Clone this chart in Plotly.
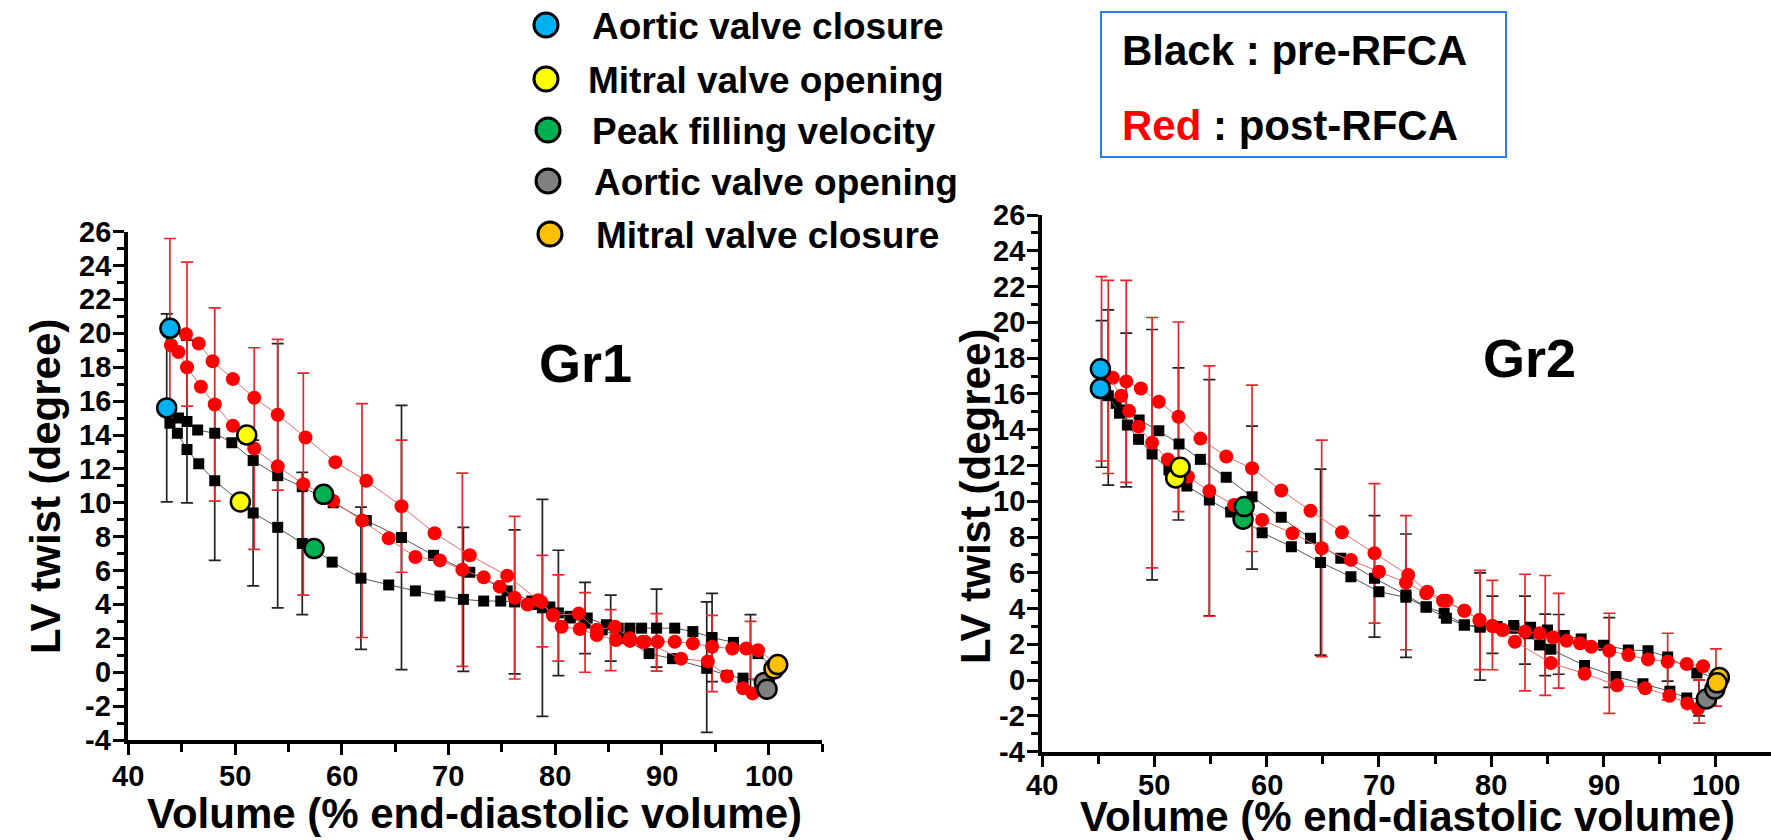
import plotly.graph_objects as go

W, H = 1771, 840
FONT = "Liberation Sans, Arial, sans-serif"

# ---------------- Gr1 : LV twist vs volume loops ----------------
gr1_pre_sys_x = [43.6, 44.7, 45.5, 46.5, 48.1, 49.7, 51.7, 54.0, 56.3, 59.2, 62.3, 65.6, 68.6, 72.0, 75.5, 77.8, 78.8,
                 80.3, 81.4, 82.8, 84.4, 86.4, 88.8, 91.0, 94.2, 96.1, 97.6, 99.6]
gr1_pre_sys_y = [15.6, 15.0, 14.8, 14.3, 14.1, 13.55, 12.5, 11.6, 10.95, 10.0, 8.95, 7.95, 6.9, 5.9, 4.8, 4.2, 3.8,
                 3.5, 3.2, 2.9, 2.5, 2.0, 1.1, 0.8, 0.23, -0.2, -0.35, -0.6]
gr1_pre_dia_x = [43.6, 43.9, 44.6, 45.5, 46.6, 48.1, 50.5, 51.7, 54.0, 56.3, 57.4, 59.1, 61.8, 64.4, 66.9, 69.2, 71.4,
                 73.3, 74.9, 76.2, 77.8, 79.5, 81.4, 83.0, 84.8, 85.9, 87.0, 88.1, 89.5, 91.2, 92.9, 94.7, 96.7, 99.0,
                 100.5]
gr1_pre_dia_y = [15.6, 14.7, 14.1, 13.15, 12.3, 11.3, 10.05, 9.4, 8.55, 7.6, 7.3, 6.5, 5.55, 5.15, 4.8, 4.5, 4.3,
                 4.2, 4.2, 4.15, 4.0, 3.85, 3.3, 3.2, 2.8, 2.6, 2.6, 2.6, 2.6, 2.6, 2.4, 2.05, 1.76, 1.1, 0.2]
gr1_post_sys_x = [43.9, 45.4, 46.6, 47.9, 49.8, 51.8, 54.0, 56.6, 59.4, 62.3, 65.6, 68.7, 72.0, 75.5, 78.4, 79.8,
                  80.6, 82.3, 83.9, 85.7, 87.0, 88.4, 91.8, 94.3, 96.1, 97.6, 98.5, 99.85]
gr1_post_sys_y = [20.3, 19.95, 19.4, 18.35, 17.3, 16.2, 15.2, 13.85, 12.4, 11.3, 9.8, 8.2, 6.9, 5.7, 4.25, 3.36,
                  2.68, 2.55, 2.2, 1.9, 1.85, 1.8, 0.8, 0.64, -0.24, -0.95, -1.25, -1.0]
gr1_post_dia_x = [43.9, 44.0, 44.7, 45.5, 46.8, 48.1, 49.8, 51.1, 51.8, 54.0, 56.4, 58.3, 59.2, 61.9, 64.4, 66.9,
                  69.2, 71.3, 73.3, 74.8, 76.2, 77.4, 78.7, 79.8, 82.2, 83.9, 85.6, 87.0, 88.2, 89.6, 91.2, 92.9,
                  94.7, 96.6, 97.9, 99.0, 100.85]
gr1_post_dia_y = [20.3, 19.3, 18.9, 18.0, 16.85, 15.8, 14.55, 14.0, 13.2, 12.15, 11.1, 10.5, 10.1, 8.95, 7.9, 6.8,
                  6.6, 6.05, 5.6, 5.05, 4.4, 4.0, 4.15, 3.36, 3.46, 2.5, 2.68, 2.0, 1.8, 1.8, 1.8, 1.7,
                  1.5, 1.4, 1.4, 1.3, 0.45]

gr1_pre_err_x = [43.6, 45.5, 48.1, 51.7, 54.0, 56.3, 61.8, 65.6, 71.4, 76.2, 78.8, 80.3, 82.8, 85.2, 89.5, 94.2,
                 94.7, 98.3]
gr1_pre_err_y = [15.6, 14.8, 11.3, 9.4, 11.6, 7.6, 5.55, 7.95, 4.3, 4.15, 3.8, 3.5, 3.2, 2.6, 2.6, 0.3, 2.05, 1.1]
gr1_pre_sd = [5.55, 4.8, 4.7, 4.3, 7.8, 4.2, 4.2, 7.8, 4.25, 4.25, 6.4, 3.7, 2.1, 1.95, 2.3, 3.85, 2.6, 2.3]
gr1_post_err_x = [43.9, 45.5, 48.1, 51.8, 54.0, 56.4, 61.9, 65.6, 71.3, 76.2, 78.8, 80.3, 82.8, 85.2, 89.5, 94.7,
                  98.3]
gr1_post_err_y = [20.3, 19.95, 15.8, 13.2, 15.2, 11.1, 8.95, 9.8, 6.05, 4.4, 4.2, 3.2, 2.35, 1.9, 1.76, 1.1, 1.3]
gr1_post_sd = [5.3, 4.25, 5.7, 5.95, 4.45, 6.55, 6.9, 3.9, 5.7, 4.8, 2.7, 2.55, 2.35, 1.8, 1.7, 2.25, 1.7]

# ---------------- Gr2 ----------------
gr2_pre_sys_x = [45.2, 46.6, 47.5, 48.65, 50.4, 52.2, 54.1, 56.4, 58.7, 61.3, 63.9, 66.6, 69.6, 72.4, 74.2, 75.8,
                 77.6, 79.0, 80.5, 82.0, 83.3, 84.3, 85.3, 88.3, 91.1, 93.5, 95.9, 97.4, 99.15]
gr2_pre_sys_y = [16.3, 15.47, 15.1, 14.54, 13.94, 13.2, 12.34, 11.34, 10.25, 9.1, 7.93, 6.81, 5.69, 4.76, 4.1, 3.74,
                 3.08, 3.0, 2.95, 2.9, 2.6, 1.96, 1.72, 0.82, 0.2, -0.2, -0.62, -1.0, -1.05]
gr2_pre_dia_x = [45.2, 45.9, 46.9, 47.6, 48.6, 49.8, 51.3, 51.9, 52.9, 54.9, 56.8, 57.9, 59.6, 62.2, 64.8, 67.5,
                 70.0, 72.4, 74.2, 76.0, 77.6, 79.0, 80.5, 82.0, 83.5, 85.0, 86.5, 88.0, 90.0, 92.2, 93.95, 95.7,
                 98.3, 100.3]
gr2_pre_dia_y = [16.3, 15.9, 14.92, 14.26, 13.46, 12.64, 11.75, 11.3, 10.85, 10.07, 9.4, 9.0, 8.24, 7.46, 6.58, 5.78,
                 4.94, 4.63, 4.07, 3.46, 3.08, 2.95, 3.0, 3.05, 2.95, 2.8, 2.5, 2.3, 1.95, 1.69, 1.64, 1.3,
                 0.4, 0.15]
gr2_post_sys_x = [45.2, 46.3, 47.5, 48.8, 50.4, 52.15, 54.1, 56.4, 58.7, 61.3, 63.9, 66.7, 69.6, 72.6, 74.3, 76.0,
                  77.6, 78.95, 80.1, 81.0, 82.1, 85.3, 88.3, 91.2, 93.7, 95.85, 97.45, 98.4, 99.9]
gr2_post_sys_y = [17.4, 16.9, 16.7, 16.3, 15.56, 14.72, 13.5, 12.5, 11.84, 10.6, 9.47, 8.26, 7.09, 5.88, 4.94, 4.44,
                  3.88, 3.36, 3.03, 2.8, 2.15, 0.96, 0.36, -0.29, -0.45, -0.87, -1.3, -1.6, -0.5]
gr2_post_dia_x = [45.2, 45.9, 47.05, 47.75, 48.6, 49.8, 51.2, 52.3, 53.0, 54.9, 57.1, 58.0, 59.6, 62.3, 64.9, 67.5,
                  70.0, 72.4, 74.2, 75.7, 77.6, 78.95, 80.1, 81.0, 83.0, 84.3, 85.5, 86.7, 87.9, 88.9, 90.5, 92.2,
                  93.95, 95.7, 97.4, 98.85, 100.1]
gr2_post_dia_y = [17.4, 16.95, 15.9, 15.05, 14.17, 13.27, 12.34, 11.9, 11.37, 10.57, 9.79, 9.7, 8.95, 8.21, 7.37, 6.72,
                  6.06, 5.45, 4.85, 4.44, 3.88, 3.36, 3.03, 2.8, 2.7, 2.62, 2.4, 2.2, 2.06, 1.87, 1.64, 1.4,
                  1.16, 1.03, 0.9, 0.78, -0.15]

gr2_pre_err_x = [45.3, 45.9, 47.5, 49.8, 52.15, 54.9, 58.7, 64.8, 69.6, 72.4, 79.0, 80.1, 83.0, 84.8, 86.0, 90.5,
                 95.7, 98.5]
gr2_pre_err_y = [16.0, 15.8, 15.1, 12.6, 13.2, 10.2, 10.2, 6.6, 5.8, 4.72, 3.0, 3.1, 2.8, 1.97, 2.0, 1.55, 0.5, -1.0]
gr2_pre_sd = [4.1, 4.9, 4.3, 7.0, 4.25, 6.6, 4.0, 5.2, 3.4, 3.45, 3.0, 1.6, 1.9, 1.72, 1.67, 1.95, 0.55, 1.0]
gr2_post_err_x = [45.3, 45.9, 47.5, 49.8, 52.15, 54.9, 58.7, 64.9, 69.6, 72.4, 79.0, 80.1, 83.0, 84.8, 86.0, 90.5,
                  95.7, 98.5, 100.0]
gr2_post_err_y = [17.4, 16.95, 16.7, 13.27, 14.72, 10.57, 11.84, 7.37, 7.09, 5.45, 3.36, 3.08, 2.66, 2.5, 2.2, 0.94,
                  0.76, -1.2, 0.15]
gr2_post_sd = [5.15, 5.4, 5.65, 7.0, 5.3, 7.0, 4.65, 6.05, 3.9, 3.75, 2.77, 2.5, 3.26, 3.35, 2.65, 2.8, 1.86, 1.2,
               1.6]

# ---------------- Cardiac events (pre, post) ----------------
events = ["Aortic valve closure", "Mitral valve opening", "Peak filling velocity",
          "Aortic valve opening", "Mitral valve closure"]
event_colors = ["#00b0f0", "#ffff00", "#00b050", "#808080", "#ffc000"]

gr1_pre_event_x = [43.6, 50.5, 57.4, 99.6, 100.5]
gr1_pre_event_y = [15.6, 10.05, 7.3, -0.6, 0.2]
gr1_post_event_x = [43.9, 51.1, 58.3, 99.85, 100.85]
gr1_post_event_y = [20.3, 14.0, 10.5, -1.0, 0.45]
gr2_pre_event_x = [45.2, 51.9, 57.9, 99.15, 100.3]
gr2_pre_event_y = [16.3, 11.3, 9.0, -1.05, 0.15]
gr2_post_event_x = [45.2, 52.3, 58.0, 99.9, 100.1]
gr2_post_event_y = [17.4, 11.9, 9.7, -0.5, -0.15]

x_ticks = [40, 50, 60, 70, 80, 90, 100]
x_tick_labels = ["40", "50", "60", "70", "80", "90", "100"]
y_ticks = [-4, -2, 0, 2, 4, 6, 8, 10, 12, 14, 16, 18, 20, 22, 24, 26]
y_tick_labels = ["-4", "-2", "0", "2", "4", "6", "8", "10", "12", "14", "16", "18", "20", "22", "24", "26"]

PRE_MARK = dict(symbol="square", size=11, color="#000000")
POST_MARK = dict(symbol="circle", size=14, color="#ff0000")
PRE_LINE = dict(color="#555555", width=1)
POST_LINE = dict(color="#e86a6a", width=1)

fig = go.Figure()


def add_limb(x, y, xa, ya, marker, line):
    fig.add_trace(go.Scatter(x=x, y=y, mode="lines+markers", marker=marker, line=line,
                             xaxis=xa, yaxis=ya, showlegend=False, hoverinfo="skip"))


def add_err(x, y, sd, xa, ya, color):
    fig.add_trace(go.Scatter(x=x, y=y, mode="markers", marker=dict(size=1, opacity=0),
                             error_y=dict(type="data", array=sd, visible=True, color=color,
                                          thickness=1.7, width=6),
                             xaxis=xa, yaxis=ya, showlegend=False, hoverinfo="skip"))


def add_events(pre_x, pre_y, post_x, post_y, xa, ya):
    for i, name in enumerate(events):
        fig.add_trace(go.Scatter(x=[pre_x[i], post_x[i]], y=[pre_y[i], post_y[i]], mode="markers",
                                 marker=dict(symbol="circle", size=19, color=event_colors[i],
                                             line=dict(color="#000000", width=2.5)),
                                 name=name, xaxis=xa, yaxis=ya, showlegend=False, hoverinfo="skip"))


panels = [
    ("x", "y", (gr1_pre_sys_x, gr1_pre_sys_y), (gr1_pre_dia_x, gr1_pre_dia_y),
     (gr1_post_sys_x, gr1_post_sys_y), (gr1_post_dia_x, gr1_post_dia_y),
     (gr1_pre_err_x, gr1_pre_err_y, gr1_pre_sd), (gr1_post_err_x, gr1_post_err_y, gr1_post_sd),
     (gr1_pre_event_x, gr1_pre_event_y, gr1_post_event_x, gr1_post_event_y)),
    ("x2", "y2", (gr2_pre_sys_x, gr2_pre_sys_y), (gr2_pre_dia_x, gr2_pre_dia_y),
     (gr2_post_sys_x, gr2_post_sys_y), (gr2_post_dia_x, gr2_post_dia_y),
     (gr2_pre_err_x, gr2_pre_err_y, gr2_pre_sd), (gr2_post_err_x, gr2_post_err_y, gr2_post_sd),
     (gr2_pre_event_x, gr2_pre_event_y, gr2_post_event_x, gr2_post_event_y)),
]
for xa, ya, ps, pd, qs, qd, pe, qe, ev in panels:
    add_err(*pe, xa, ya, "#222222")
    add_err(*qe, xa, ya, "#e8262b")
    add_limb(*ps, xa, ya, PRE_MARK, PRE_LINE)
    add_limb(*pd, xa, ya, PRE_MARK, PRE_LINE)
    add_limb(*qs, xa, ya, POST_MARK, POST_LINE)
    add_limb(*qd, xa, ya, POST_MARK, POST_LINE)
    add_events(*ev, xa, ya)


def px(v):
    return v / W


def py(v):
    return 1 - v / H


axis_common = dict(showgrid=False, zeroline=False, showline=True, linecolor="#000000", linewidth=4,
                   ticks="outside", ticklen=11, tickwidth=3, tickcolor="#000000", showticklabels=False,
                   automargin=False, mirror=False, fixedrange=True, tickmode="array")
x_minor = dict(dtick=5, tick0=40, ticks="outside", ticklen=8, tickwidth=3, tickcolor="#000000")
y_minor = dict(dtick=1, tick0=-4, ticks="outside", ticklen=7, tickwidth=3, tickcolor="#000000")

fig.update_layout(
    width=W, height=H, margin=dict(l=0, r=0, t=0, b=0, pad=0, autoexpand=False), autosize=False,
    paper_bgcolor="#ffffff", plot_bgcolor="#ffffff", showlegend=False,
    font=dict(family=FONT, size=24, color="#000000"),
    xaxis=dict(domain=[px(128.3), px(822)], range=[40, 105], tickvals=x_ticks, anchor="y",
               minor=x_minor, **axis_common),
    yaxis=dict(domain=[py(740), py(231.7)], range=[-4, 26], tickvals=y_ticks, anchor="x",
               minor=y_minor, **axis_common),
    xaxis2=dict(domain=[px(1042), 1.0], range=[40, 104.9], tickvals=x_ticks, anchor="y2",
                minor=x_minor, **axis_common),
    yaxis2=dict(domain=[py(751.7), py(215)], range=[-4, 26], tickvals=y_ticks, anchor="x2",
                minor=y_minor, **axis_common),
)

annotations = []


def text(x, y, s, size, xanchor="center", angle=0, color="#000000"):
    annotations.append(dict(x=px(x), y=py(y), xref="paper", yref="paper", text=s, showarrow=False,
                            xanchor=xanchor, yanchor="middle", textangle=angle,
                            font=dict(family=FONT, size=size, color=color)))


# tick labels placed on each axis' own scale
TICK_SIZE = 29
for xa, ya, x_lab_y, y_lab_x in [("x", "y", 776, 113), ("x2", "y2", 785, 1027)]:
    for v, lab in zip(x_ticks, x_tick_labels):
        annotations.append(dict(x=v, y=py(x_lab_y), xref=xa, yref="paper", text="<b>" + lab + "</b>",
                                showarrow=False, xanchor="center", yanchor="middle",
                                font=dict(family=FONT, size=TICK_SIZE, color="#000000")))
    for v, lab in zip(y_ticks, y_tick_labels):
        annotations.append(dict(x=px(y_lab_x), y=v, xref="paper", yref=ya, text="<b>" + lab + "</b>",
                                showarrow=False, xanchor="right", yanchor="middle",
                                font=dict(family=FONT, size=TICK_SIZE, color="#000000")))

# panel labels and axis titles
text(585, 363, "<b>Gr1</b>", 54)
text(1529, 358, "<b>Gr2</b>", 54)
text(474, 813, "<b>Volume (% end-diastolic volume)</b>", 42)
text(1407, 816, "<b>Volume (% end-diastolic volume)</b>", 42)
text(45, 487, "<b>LV twist (degree)</b>", 42, angle=-90)
text(975, 497, "<b>LV twist (degree)</b>", 42, angle=-90)

# event legend
legend_cx = [546, 546, 548, 548, 550]
legend_cy = [25, 79, 130, 181, 234]
legend_tx = [590, 586, 590, 592, 594]
shapes = []
for i, name in enumerate(events):
    shapes.append(dict(type="circle", xref="paper", yref="paper", xsizemode="pixel", ysizemode="pixel",
                       xanchor=px(legend_cx[i]), yanchor=py(legend_cy[i]), x0=-12, x1=12, y0=-12, y1=12,
                       fillcolor=event_colors[i], line=dict(color="#000000", width=3)))
    text(legend_tx[i], legend_cy[i] + 1, "<b>" + name + "</b>", 37, xanchor="left")

# pre/post key box
shapes.append(dict(type="rect", xref="paper", yref="paper", x0=px(1101), x1=px(1506), y0=py(157), y1=py(12),
                   line=dict(color="#2f7df6", width=2), fillcolor="rgba(0,0,0,0)"))
text(1120, 50, "<b>Black : pre-RFCA</b>", 42, xanchor="left")
text(1120, 125, "<b><span style='color:#ff0000'>Red</span> : post-RFCA</b>", 42, xanchor="left")

fig.update_layout(annotations=annotations, shapes=shapes)
fig.write_html("out.html", post_script="document.body.style.margin='0';")
